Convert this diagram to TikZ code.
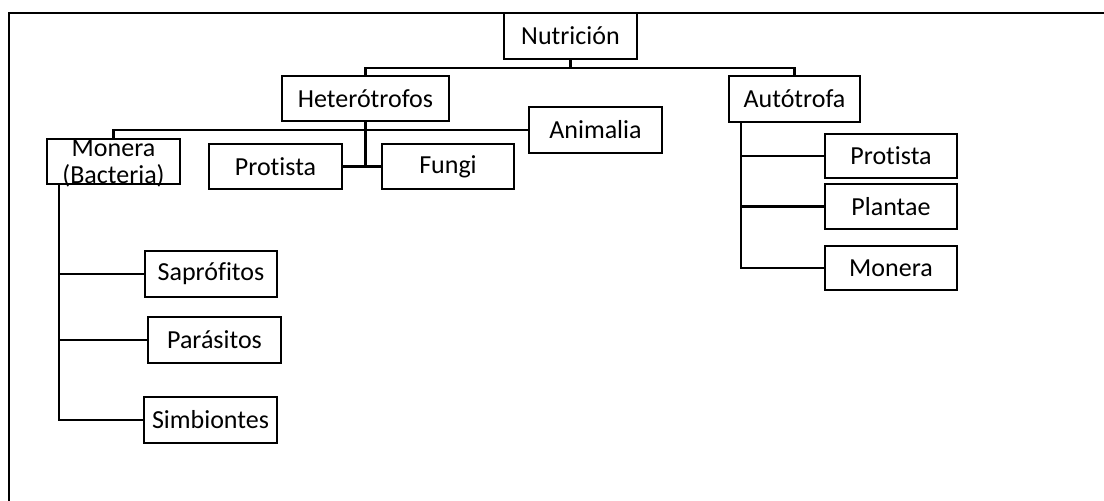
\documentclass[tikz,border=0pt]{standalone}
\usepackage{fontspec}
\setmainfont[Ligatures=NoCommon]{Carlito}
\begin{document}
\begin{tikzpicture}[x=1pt,y=-1pt,
  every node/.style={font=\fontsize{26}{27}\selectfont},
  box/.style={draw, line width=2.3pt, inner sep=0pt, minimum width=133pt, minimum height=45pt},
  conn/.style={line width=2.3pt}]
\useasboundingbox (0,0) rectangle (1104,501);
\draw[line width=1.8pt] (9,501) -- (9,13) -- (1104,13);
% nodes
\node[box, minimum height=46pt] (nut) at (570.5,36) {Nutrición};
\node[box, minimum width=167pt] (het) at (365.5,98.5) {Heterótrofos};
\node[box, minimum width=131pt, minimum height=46pt] (aut) at (794.5,99) {Autótrofa};
\node[box, minimum height=46pt] (ani) at (595.5,130) {Animalia};
\node[box] (mon) at (113.5,161.5) {};
\node[align=center, inner sep=0pt] (monl) at (113.5,163) {Monera\\(Bacteria)};
\node[box] (pro1) at (275.5,166.5) {Protista};
\node[box, minimum width=132pt] (fun) at (448,166.5) {Fungi};
\node[box, minimum width=132pt, minimum height=44pt] (pro2) at (891,156) {Protista};
\node[box, minimum width=132pt] (pla) at (891,206.5) {Plantae};
\node[box, minimum width=132pt, minimum height=44pt] (mon2) at (891,268) {Monera};
\node[box, minimum width=132pt, minimum height=46pt] (sap) at (211,274) {Saprófitos};
\node[box, minimum height=46pt] (par) at (214.5,340) {Parásitos};
\node[box, minimum height=46pt] (sim) at (210.5,420) {Simbiontes};
% connectors
\coordinate (nb) at ([yshift=-8pt]nut.south);
\draw[conn] (nut.south) -- (nb);
\draw[conn] (het.north) |- (nb) -| (aut.north);
\draw[conn] (mon.north) |- (ani.west);
\draw[conn] (het.south) -- (het.south |- pro1.east);
\draw[conn] (pro1.east) -- (fun.west);
\coordinate (mt) at ([xshift=13pt]mon.south west);
\draw[conn] (mt) |- (sim.west);
\draw[conn] (mt |- sap.west) -- (sap.west);
\draw[conn] (mt |- par.west) -- (par.west);
\coordinate (at) at ([xshift=13pt]aut.south west);
\draw[conn] (at) |- (mon2.west);
\draw[conn] (at |- pro2.west) -- (pro2.west);
\draw[conn] (at |- pla.west) -- (pla.west);
\end{tikzpicture}
\end{document}
